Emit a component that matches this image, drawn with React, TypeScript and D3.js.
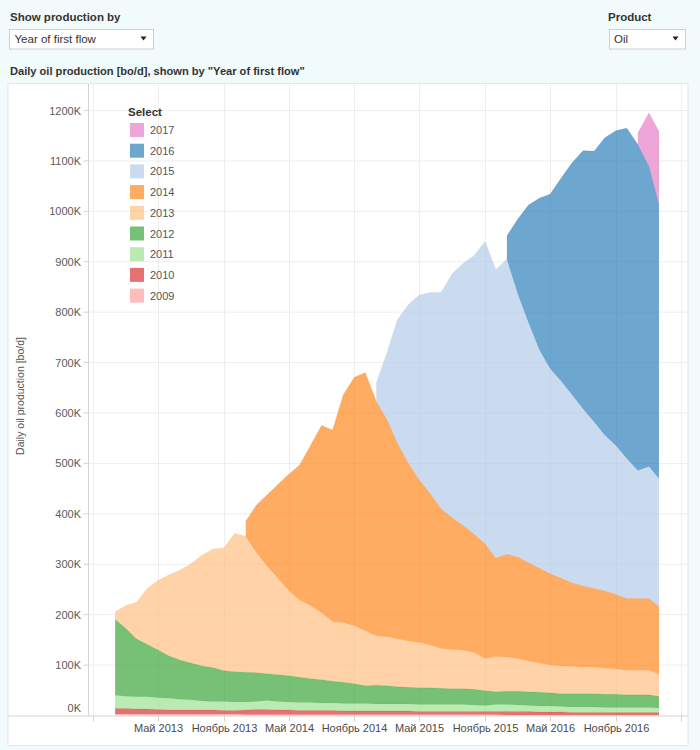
import React from 'react';
import * as d3 from 'd3';

// ---------- DATA (values in thousand bo/d) ----------
const months: string[] = [
  '2013-01', '2013-02', '2013-03', '2013-04', '2013-05', '2013-06', '2013-07', '2013-08', '2013-09', '2013-10', '2013-11', '2013-12',
  '2014-01', '2014-02', '2014-03', '2014-04', '2014-05', '2014-06', '2014-07', '2014-08', '2014-09', '2014-10', '2014-11', '2014-12',
  '2015-01', '2015-02', '2015-03', '2015-04', '2015-05', '2015-06', '2015-07', '2015-08', '2015-09', '2015-10', '2015-11', '2015-12',
  '2016-01', '2016-02', '2016-03', '2016-04', '2016-05', '2016-06', '2016-07', '2016-08', '2016-09', '2016-10', '2016-11', '2016-12',
  '2017-01', '2017-02', '2017-03',
];

const years: string[] = ['2009', '2010', '2011', '2012', '2013', '2014', '2015', '2016', '2017'];

const N = null;
const v2009: (number | null)[] = [
  3, 3, 3, 3, 3, 3, 3, 3, 3, 3, 3, 3,
  2, 2, 2, 2, 2, 2, 2, 2, 2, 2, 2, 2,
  2, 2, 2, 2, 2, 2, 2, 2, 2, 2, 2, 2,
  1, 1, 1, 1, 1, 1, 1, 1, 1, 1, 1, 1,
  1, 1, 1,
];
const v2010: (number | null)[] = [
  11, 11, 10, 10, 9, 8, 8, 8, 8, 8, 7, 7,
  9, 10, 10, 9, 9, 8, 8, 8, 8, 7, 7, 7,
  7, 7, 7, 7, 6, 6, 6, 6, 6, 6, 6, 6,
  7, 7, 7, 6, 6, 6, 5, 5, 5, 5, 5, 5,
  5, 5, 5,
];
const v2011: (number | null)[] = [
  26, 24, 24, 24, 23, 23, 21, 20, 18, 17, 18, 17,
  16, 16, 18, 17, 16, 16, 16, 15, 15, 15, 15, 15,
  14, 14, 14, 14, 14, 14, 14, 14, 14, 13, 12, 14,
  14, 13, 12, 12, 12, 11, 11, 11, 11, 10, 10, 10,
  10, 10, 9,
];
const v2012: (number | null)[] = [
  151, 134, 115, 104, 95, 84, 78, 73, 69, 67, 61, 60,
  59, 57, 53, 53, 52, 50, 47, 46, 43, 42, 39, 35,
  37, 36, 34, 33, 33, 33, 32, 31, 31, 31, 29, 25,
  26, 27, 27, 27, 26, 25, 26, 26, 26, 26, 26, 25,
  25, 25, 23,
];
const v2013: (number | null)[] = [
  15, 46, 72, 111, 138, 161, 178, 197, 220, 235, 243, 274,
  269, 237, 214, 191, 169, 153, 145, 133, 118, 118, 115, 109,
  98, 97, 95, 92, 90, 85, 79, 78, 77, 73, 64, 70,
  68, 65, 61, 58, 55, 55, 54, 53, 53, 52, 50, 49,
  49, 49, 44,
];
const v2014: (number | null)[] = [
  N, N, N, N, N, N, N, N, N, N, N, N,
  30, 96, 140, 186, 230, 268, 317, 371, 380, 452, 493, 512,
  465, 429, 388, 352, 322, 300, 277, 261, 247, 235, 227, 195,
  204, 201, 195, 188, 181, 174, 166, 161, 156, 153, 148, 142,
  142, 142, 134,
];
const v2015: (number | null)[] = [
  N, N, N, N, N, N, N, N, N, N, N, N,
  N, N, N, N, N, N, N, N, N, N, N, N,
  36, 137, 245, 315, 367, 399, 429, 484, 520, 552, 600, 572,
  585, 521, 477, 433, 407, 391, 373, 351, 330, 309, 295, 278,
  254, 262, 254,
];
const v2016: (number | null)[] = [
  N, N, N, N, N, N, N, N, N, N, N, N,
  N, N, N, N, N, N, N, N, N, N, N, N,
  N, N, N, N, N, N, N, N, N, N, N, N,
  46, 150, 232, 301, 346, 403, 460, 512, 537, 590, 625, 655,
  646, 595, 543,
];
const v2017: (number | null)[] = [
  N, N, N, N, N, N, N, N, N, N, N, N,
  N, N, N, N, N, N, N, N, N, N, N, N,
  N, N, N, N, N, N, N, N, N, N, N, N,
  N, N, N, N, N, N, N, N, N, N, N, N,
  23, 106, 145,
];

const seriesValues: (number | null)[][] = [v2009, v2010, v2011, v2012, v2013, v2014, v2015, v2016, v2017];
const seriesColors: string[] = ['#ff9896', '#d62728', '#98df8a', '#2ca02c', '#ffbb78', '#ff7f0e', '#aec7e8', '#1f77b4', '#e377c2'];

const yTicks: number[] = [0, 100, 200, 300, 400, 500, 600, 700, 800, 900, 1000, 1100, 1200];
const yTickLabels: string[] = ['0K', '100K', '200K', '300K', '400K', '500K', '600K', '700K', '800K', '900K', '1000K', '1100K', '1200K'];
const xTicks: string[] = ['2012-11', '2013-05', '2013-11', '2014-05', '2014-11', '2015-05', '2015-11', '2016-05', '2016-11', '2017-05'];
const xTickLabels: string[] = ['', 'Май 2013', 'Ноябрь 2013', 'Май 2014', 'Ноябрь 2014', 'Май 2015', 'Ноябрь 2015', 'Май 2016', 'Ноябрь 2016', ''];

// ---------- LAYOUT ----------
const W = 700;
const H = 750;
const BG = '#f1fbfb';
const FONT = '"Liberation Sans", Arial, sans-serif';
const plot = { left: 88.5, right: 688, top: 84, bottom: 715.5 };

const parseMonth = d3.utcParse('%Y-%m');

export default function App() {
  const dates = months.map((m) => parseMonth(m) as Date);
  const x = d3
    .scaleUtc()
    .domain([parseMonth('2012-11') as Date, parseMonth('2017-05') as Date])
    .range([93.3, 680.8]);
  const y = d3.scaleLinear().domain([0, 1200]).range([715.5, 110.5]);

  const table = months.map((m, i) => {
    const row: Record<string, number> = { i };
    years.forEach((yr, k) => {
      row[yr] = seriesValues[k][i] ?? 0;
    });
    return row;
  });
  const stacked = d3.stack<Record<string, number>>().keys(years)(table);

  const areas = stacked.map((layer, k) => {
    const gen = d3
      .area<d3.SeriesPoint<Record<string, number>>>()
      .defined((_, i) => seriesValues[k][i] !== null)
      .x((_, i) => x(dates[i]))
      .y0((d) => y(d[0]))
      .y1((d) => y(d[1]))
      .curve(d3.curveLinear);
    const line = d3
      .line<d3.SeriesPoint<Record<string, number>>>()
      .defined((_, i) => seriesValues[k][i] !== null)
      .x((_, i) => x(dates[i]))
      .y((d) => y(d[1]));
    return { key: years[k], d: gen(layer) || '', top: line(layer) || '', color: seriesColors[k] };
  });

  const legendOrder = [...years].reverse();

  return (
    <div style={{ position: 'absolute', left: 0, top: 0, width: W, height: H }}>
      <svg width={W} height={H} style={{ display: 'block', fontFamily: FONT }}>
        <rect x={0} y={0} width={W} height={H} fill={BG} />

        {/* Header controls */}
        <text x={10} y={20.5} fontSize={11.5} fontWeight="bold" fill="#333">Show production by</text>
        <rect x={9.5} y={29.5} width={144} height={19.5} fill="#fff" stroke="#cfcfcf" />
        <text x={14.5} y={42.5} fontSize={11.5} fill="#333">Year of first flow</text>
        <path d="M140.5,36.5 L146.5,36.5 L143.5,40.5 Z" fill="#222" />

        <text x={608} y={20.5} fontSize={11.5} fontWeight="bold" fill="#333">Product</text>
        <rect x={609.5} y={29.5} width={76} height={19.5} fill="#fff" stroke="#cfcfcf" />
        <text x={614} y={42.5} fontSize={11.5} fill="#333">Oil</text>
        <path d="M672.5,36.5 L678.5,36.5 L675.5,40.5 Z" fill="#222" />

        <text x={10} y={75} fontSize={11.1} fontWeight="bold" fill="#333">
          Daily oil production [bo/d], shown by "Year of first flow"
        </text>

        {/* Panel */}
        <rect x={8} y={83.5} width={680} height={662} fill="#fff" stroke="#e4e8e8" strokeWidth={1} />

        {/* Gridlines */}
        {yTicks.filter((t) => t > 0).map((t) => (
          <line key={'gy' + t} x1={plot.left} x2={plot.right} y1={y(t)} y2={y(t)} stroke="#eeeeee" strokeWidth={1} />
        ))}
        {xTicks.map((t) => {
          const xx = Math.round(x(parseMonth(t) as Date)) + 0.5;
          return <line key={'gx' + t} x1={xx} x2={xx} y1={plot.top} y2={plot.bottom} stroke="#eeeeee" strokeWidth={1} />;
        })}

        {/* Areas */}
        {areas.map((a) => (
          <g key={a.key}>
            <path d={a.d} fill={a.color} fillOpacity={0.65} stroke="none" />
            <path d={a.top} fill="none" stroke={a.color} strokeOpacity={0.35} strokeWidth={0.8} />
          </g>
        ))}

        {/* Axes */}
        <line x1={plot.left} x2={plot.left} y1={plot.top} y2={plot.bottom} stroke="#d4d4d4" />
        <line x1={8} x2={plot.right} y1={plot.bottom + 0.5} y2={plot.bottom + 0.5} stroke="#d4d4d4" />
        {yTicks.map((t, i) => (
          <g key={'yt' + t}>
            {t > 0 && <line x1={plot.left - 5} x2={plot.left} y1={y(t)} y2={y(t)} stroke="#d4d4d4" />}
            <text
              x={81}
              y={t === 0 ? y(t) - 8 : y(t)}
              textAnchor="end"
              dominantBaseline="central"
              fontSize={11}
              fill="#5a5a5a"
            >
              {yTickLabels[i]}
            </text>
          </g>
        ))}
        {xTicks.map((t, i) => {
          const xx = Math.round(x(parseMonth(t) as Date)) + 0.5;
          return (
            <g key={'xt' + t}>
              <line x1={xx} x2={xx} y1={plot.bottom + 0.5} y2={plot.bottom + 6} stroke="#d4d4d4" />
              <text x={xx} y={732} textAnchor="middle" fontSize={11} fill="#4a4a4a">
                {xTickLabels[i]}
              </text>
            </g>
          );
        })}
        <text
          transform={`translate(23.5, 396) rotate(-90)`}
          textAnchor="middle"
          fontSize={10.5}
          fill="#555"
        >
          Daily oil production [bo/d]
        </text>

        {/* Legend */}
        <text x={128} y={112} dominantBaseline="central" fontSize={11.5} fontWeight="bold" fill="#333">Select</text>
        {legendOrder.map((yr, i) => {
          const k = years.indexOf(yr);
          const cy = 130 + i * 20.7;
          return (
            <g key={'lg' + yr}>
              <rect x={130} y={cy - 7} width={14} height={14} fill={seriesColors[k]} fillOpacity={0.65} />
              <text x={150} y={cy} dominantBaseline="central" fontSize={11} fill="#555">{yr}</text>
            </g>
          );
        })}
      </svg>
    </div>
  );
}
